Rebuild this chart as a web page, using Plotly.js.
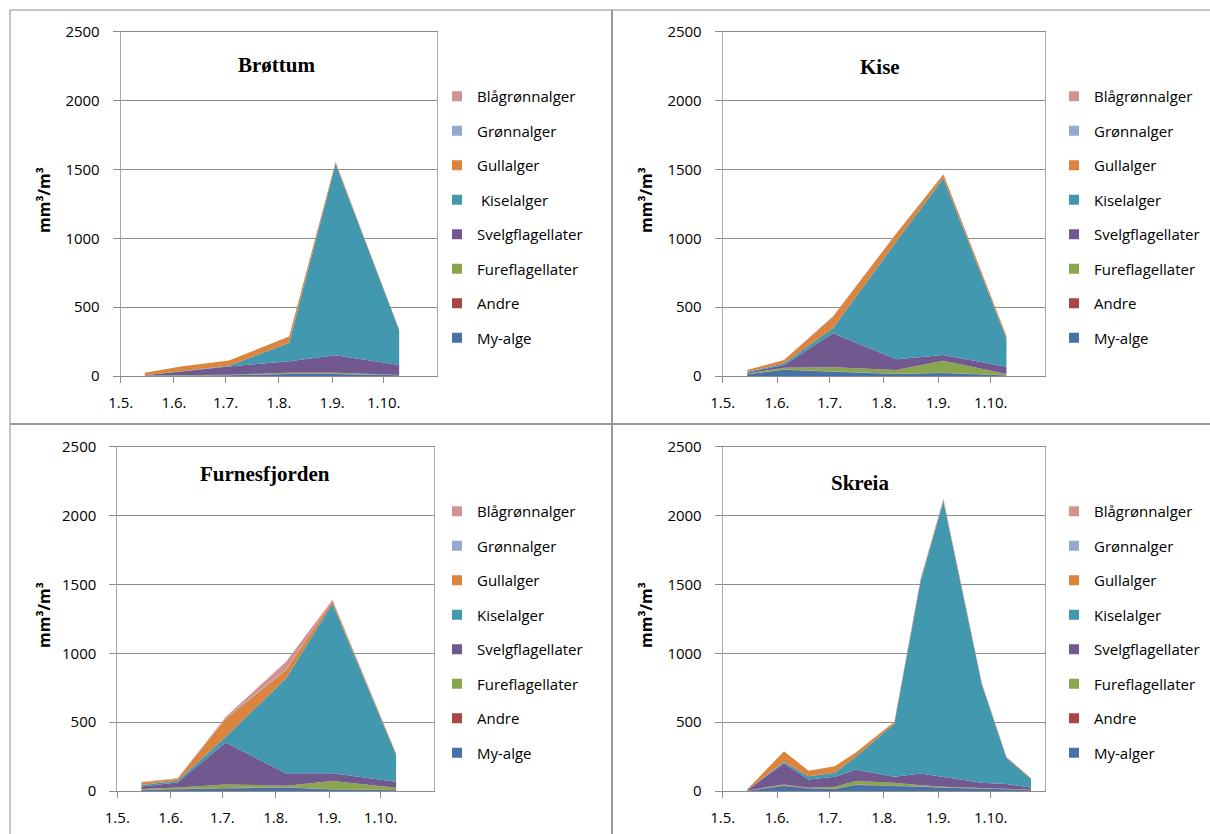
<!DOCTYPE html>
<html>
<head>
<meta charset="utf-8">
<script src="https://cdn.plot.ly/plotly-3.0.1.min.js"></script>
<style>html,body{margin:0;padding:0;background:#fff;}#chart{width:1210px;height:834px;}</style>
</head>
<body>
<div id="chart"></div>
<script>
// ---------- data ----------
const monthTicks = ['2010-05-01','2010-06-01','2010-07-01','2010-08-01','2010-09-01','2010-10-01'];
const monthLabels = ['1.5.','1.6.','1.7.','1.8.','1.9.','1.10.'];
const yTicks = [0,500,1000,1500,2000,2500];
const groupNames = ['My-alge','Andre','Fureflagellater','Svelgflagellater','Kiselalger','Gullalger','Grønnalger','Blågrønnalger'];
const groupColors = ['#4572A7','#AA4643','#89A54E','#71588F','#4198AF','#DB843D','#93A9CF','#D19392'];
const panelTitles = ['Brøttum','Kise','Furnesfjorden','Skreia'];

// Brøttum
const brDates = ['2010-05-15','2010-06-05','2010-07-03','2010-08-07','2010-09-03','2010-10-10'];
const brMy    = [2, 3, 5, 14, 15, 5];
const brAndre = [0, 1, 1, 2, 2, 1];
const brFure  = [1, 3, 3, 8, 7, 2];
const brSvelg = [2, 25, 60, 84, 127, 71];
const brKisel = [0, 1, 5, 131, 1390, 254];
const brGull  = [19, 36, 38, 48, 12, 5];
const brGronn = [0, 0, 0, 1, 1, 0];
const brBla   = [0, 0, 0, 1, 1, 0];
const brNames = ['My-alge','Andre','Fureflagellater','Svelgflagellater','\u00a0Kiselalger','Gullalger','Grønnalger','Blågrønnalger'];

// Kise
const kiDates = ['2010-05-15','2010-06-05','2010-07-03','2010-08-08','2010-09-04','2010-10-10'];
const kiMy    = [12, 46, 30, 14, 22, 4];
const kiAndre = [1, 2, 3, 2, 2, 1];
const kiFure  = [3, 12, 30, 28, 87, 10];
const kiSvelg = [8, 20, 247, 77, 41, 53];
const kiKisel = [6, 12, 36, 854, 1282, 205];
const kiGull  = [14, 24, 84, 58, 30, 17];
const kiGronn = [0, 0, 3, 2, 2, 0];
const kiBla   = [0, 0, 2, 0, 0, 0];

// Furnesfjorden
const fuDates = ['2010-05-15','2010-06-05','2010-07-03','2010-08-07','2010-09-03','2010-10-10'];
const fuMy    = [8, 14, 18, 25, 10, 6];
const fuAndre = [1, 2, 3, 2, 2, 1];
const fuFure  = [5, 10, 27, 12, 61, 17];
const fuSvelg = [18, 36, 305, 89, 55, 44];
const fuKisel = [12, 12, 41, 689, 1234, 193];
const fuGull  = [17, 15, 133, 61, 19, 10];
const fuGronn = [3, 1, 4, 5, 3, 1];
const fuBla   = [4, 2, 8, 55, 4, 1];

// Skreia
const skDates = ['2010-05-15','2010-06-05','2010-06-19','2010-07-04','2010-07-16','2010-08-07','2010-08-22','2010-09-04','2010-09-26','2010-10-10','2010-10-24'];
const skMy    = [2, 36, 19, 14, 43, 38, 31, 24, 18, 14, 8];
const skAndre = [1, 6, 2, 2, 4, 3, 2, 2, 1, 1, 1];
const skFure  = [1, 6, 3, 15, 25, 19, 8, 5, 3, 2, 1];
const skSvelg = [3, 152, 60, 72, 84, 43, 86, 72, 38, 33, 16];
const skKisel = [1, 10, 24, 29, 92, 385, 1400, 2000, 711, 191, 62];
const skGull  = [4, 78, 39, 48, 31, 15, 12, 15, 8, 6, 4];
const skGronn = [0, 0, 0, 0, 0, 0, 2, 3, 1, 1, 0];
const skBla   = [0, 0, 0, 0, 0, 0, 2, 2, 1, 1, 0];
const skNames = ['My-alger','Andre','Fureflagellater','Svelgflagellater','Kiselalger','Gullalger','Grønnalger','Blågrønnalger'];

// ---------- layout helpers ----------
const W = 1210, H = 834;
const fx = v => v / W;
const fy = v => 1 - v / H;
const sansFamily = '"Open Sans", Lato, sans-serif';
const tickFont = {family: sansFamily, size: 15, color: '#000'};

const panels = [
  {dates: brDates, series: [brMy, brAndre, brFure, brSvelg, brKisel, brGull, brGronn, brBla], names: brNames,
   box: [120.7, 437, 31.7, 376], title: [276, 65], ytitle: [44, 200], legend: [437, 80]},
  {dates: kiDates, series: [kiMy, kiAndre, kiFure, kiSvelg, kiKisel, kiGull, kiGronn, kiBla], names: groupNames,
   box: [722.7, 1045, 31.7, 376], title: [880, 67], ytitle: [646, 200], legend: [1054, 80]},
  {dates: fuDates, series: [fuMy, fuAndre, fuFure, fuSvelg, fuKisel, fuGull, fuGronn, fuBla], names: groupNames,
   box: [117.3, 434, 446.7, 791], title: [265, 474], ytitle: [44, 615], legend: [437, 495]},
  {dates: skDates, series: [skMy, skAndre, skFure, skSvelg, skKisel, skGull, skGronn, skBla], names: skNames,
   box: [722.7, 1045, 446.7, 791], title: [860, 483], ytitle: [646, 615], legend: [1054, 495]}
];

const traces = [];
const layout = {
  width: W, height: H,
  margin: {l: 0, r: 0, t: 0, b: 0},
  paper_bgcolor: '#fff', plot_bgcolor: '#fff',
  annotations: [], shapes: []
};

panels.forEach((p, i) => {
  const n = i + 1;
  const xa = 'x' + (n === 1 ? '' : n), ya = 'y' + (n === 1 ? '' : n);
  const lg = 'legend' + (n === 1 ? '' : n);
  // stacked areas
  p.series.forEach((vals, k) => {
    traces.push({
      type: 'scatter', mode: 'lines', x: p.dates, y: vals,
      stackgroup: 'stack' + n, fill: 'tonexty',
      line: {color: groupColors[k], width: 0},
      fillcolor: groupColors[k],
      name: p.names[k], showlegend: false,
      xaxis: xa, yaxis: ya, hoverinfo: 'x+y+name'
    });
  });
  // legend entries (top-to-bottom order)
  for (let k = groupNames.length - 1; k >= 0; k--) {
    traces.push({
      type: 'scatter', mode: 'markers', x: [null], y: [null],
      marker: {symbol: 'square', size: 10, color: groupColors[k], line: {width: 0}},
      name: p.names[k], legend: lg, legendgroup: 'g' + n + '_' + k,
      showlegend: true, xaxis: xa, yaxis: ya, hoverinfo: 'skip'
    });
  }
  const [x0, x1, yTop, yBot] = p.box;
  layout['xaxis' + (n === 1 ? '' : n)] = {
    type: 'date', domain: [fx(x0), fx(x1)], anchor: ya,
    range: ['2010-05-01', '2010-11-01'],
    tickmode: 'array', tickvals: monthTicks, ticktext: monthLabels,
    ticks: 'outside', ticklen: 6, tickcolor: '#8c8c8c', tickwidth: 1,
    showgrid: false, zeroline: false, showline: true, linecolor: '#8c8c8c', linewidth: 1, mirror: true,
    tickfont: tickFont, ticklabelstandoff: 7, fixedrange: true
  };
  layout['yaxis' + (n === 1 ? '' : n)] = {
    domain: [fy(yBot), fy(yTop)], anchor: xa,
    range: [0, 2500], tickmode: 'array', tickvals: yTicks,
    ticks: 'outside', ticklen: 7, tickcolor: '#8c8c8c', tickwidth: 1,
    showgrid: true, gridcolor: '#8c8c8c', gridwidth: 1,
    zeroline: false, showline: true, linecolor: '#a6a6a6', linewidth: 1, mirror: true,
    tickfont: tickFont, ticklabelstandoff: 10, fixedrange: true
  };
  layout[lg] = {
    x: fx(p.legend[0]), y: fy(p.legend[1]), xanchor: 'left', yanchor: 'top',
    xref: 'paper', yref: 'paper',
    bgcolor: 'rgba(0,0,0,0)', borderwidth: 0,
    font: {family: sansFamily, size: 15, color: '#000'},
    traceorder: 'grouped', tracegroupgap: 12
  };
  layout.annotations.push({
    text: '<b>' + panelTitles[i] + '</b>', xref: 'paper', yref: 'paper',
    x: fx(p.title[0]), y: fy(p.title[1]), xanchor: 'center', yanchor: 'middle',
    showarrow: false, font: {family: '"Liberation Serif", serif', size: 21, color: '#000'}
  });
  layout.annotations.push({
    text: '<b>mm³/m³</b>', xref: 'paper', yref: 'paper', textangle: -90,
    x: fx(p.ytitle[0]), y: fy(p.ytitle[1]), xanchor: 'center', yanchor: 'middle',
    showarrow: false, font: {family: sansFamily, size: 16, color: '#000'}
  });
});

// frame and dividers of the 2x2 grid
const lineStyle = {color: '#8c8c8c', width: 1};
layout.shapes.push({type: 'line', xref: 'paper', yref: 'paper', x0: fx(10), x1: fx(10), y0: fy(10), y1: 0, line: lineStyle});
layout.shapes.push({type: 'line', xref: 'paper', yref: 'paper', x0: fx(10), x1: 1, y0: fy(10), y1: fy(10), line: lineStyle});
layout.shapes.push({type: 'line', xref: 'paper', yref: 'paper', x0: fx(612), x1: fx(612), y0: fy(10), y1: 0, line: {color: '#999', width: 2}});
layout.shapes.push({type: 'line', xref: 'paper', yref: 'paper', x0: fx(10), x1: 1, y0: fy(424), y1: fy(424), line: {color: '#999', width: 2}});

Plotly.newPlot('chart', traces, layout, {displayModeBar: false, staticPlot: true});
</script>
</body>
</html>
